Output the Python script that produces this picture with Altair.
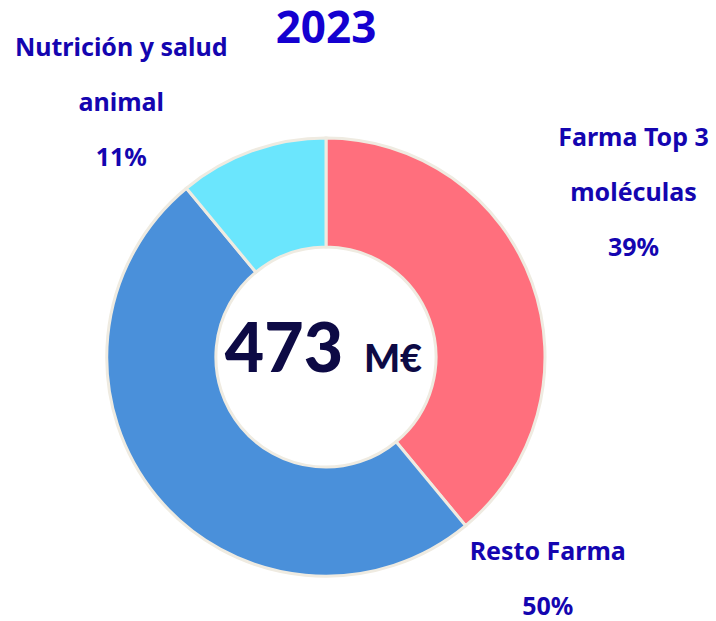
import altair as alt
import pandas as pd

# ---- datos ----
categorias = ["Farma Top 3 moléculas", "Resto Farma", "Nutrición y salud animal"]
porcentajes = [39, 50, 11]
orden = [1, 2, 3]
etiquetas = ["Farma Top 3\nmoléculas\n39%", "Resto Farma\n50%", "Nutrición y salud\nanimal\n11%"]
colores = ["#FF6F7D", "#4A90DA", "#6BE6FD"]
titulo = "2023"
total_valor = "473"
total_unidad = "M€"

df = pd.DataFrame({
    "categoria": categorias,
    "valor": porcentajes,
    "orden": orden,
    "etiqueta": etiquetas,
})

W, H = 652, 528
TEXT_COLOR = "#1405B0"
CENTER_COLOR = "#0D0A45"

base = alt.Chart(df)

arc = base.mark_arc(
    outerRadius=219, innerRadius=110, stroke="#EFEBE1", strokeWidth=3
).encode(
    theta=alt.Theta("valor:Q", stack=True),
    order=alt.Order("orden:Q"),
    color=alt.Color("categoria:N", scale=alt.Scale(domain=categorias, range=colores), legend=None),
)

stacked = base.transform_window(
    fin="sum(valor)", sort=[alt.SortField("orden")], frame=[None, 0]
).transform_calculate(
    medio="datum.fin - datum.valor / 2"
)

def label_layer(cat, dx, dy):
    return stacked.transform_filter(alt.datum.categoria == cat).mark_text(
        radius=330, dx=dx, dy=dy, lineBreak="\n", lineHeight=55,
        font="Noto Sans", fontSize=25, fontWeight="bold", color=TEXT_COLOR,
        align="center", baseline="middle",
    ).encode(
        theta=alt.Theta("medio:Q", scale=alt.Scale(domain=[0, 100])),
        text="etiqueta:N",
    )

labels = [
    label_layer(categorias[0], -3, -107),
    label_layer(categorias[1], 476, -15),
    label_layer(categorias[2], -93, 1),
]

title_txt = alt.Chart(pd.DataFrame({"t": [titulo]})).mark_text(
    font="Noto Sans", fontSize=44, fontWeight="bold", color="#1400D0",
    align="center", baseline="alphabetic",
).encode(x=alt.value(W / 2), y=alt.value(-50), text="t:N")

num_txt = alt.Chart(pd.DataFrame({"t": [total_valor]})).mark_text(
    font="Lato", fontSize=68, fontWeight=900, color=CENTER_COLOR,
    align="center", baseline="alphabetic",
).encode(x=alt.value(W / 2 - 42), y=alt.value(H / 2 + 15), text="t:N")

unit_txt = alt.Chart(pd.DataFrame({"t": [total_unidad]})).mark_text(
    font="Lato", fontSize=38, fontWeight=900, color=CENTER_COLOR,
    align="center", baseline="alphabetic",
).encode(x=alt.value(W / 2 + 67), y=alt.value(H / 2 + 15), text="t:N")

chart = alt.layer(arc, *labels, title_txt, num_txt, unit_txt).properties(
    width=W, height=H,
    autosize=alt.AutoSizeParams(type="none"),
    padding={"left": 0, "top": 93, "right": 64, "bottom": 0},
).configure_view(stroke=None)

chart.save("out.html", embed_options={"renderer": "svg", "actions": False})
